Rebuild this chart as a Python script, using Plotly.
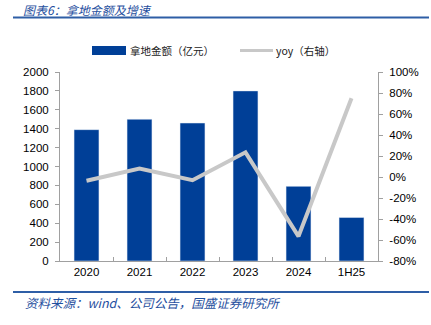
import plotly.graph_objects as go

categories = ["2020", "2021", "2022", "2023", "2024", "1H25"]
land_amount = [1390, 1500, 1460, 1800, 790, 460]
yoy_pct = [-3.5, 8.0, -3.0, 23.5, -56.5, 75.0]

left_ticks = list(range(0, 2001, 200))
right_ticks = list(range(-80, 101, 20))

BAR = "#003f97"
LINE = "#c8c8c8"
TXT_BLUE = "#1f4f9e"
AX = "#a0a0a0"
FONT = "Liberation Sans, Arial, sans-serif"
CJK = "Noto Sans CJK SC"

W, H = 431, 325
ml, mr, mt, mb = 60, 53, 72, 64
PW, PH = W - ml - mr, H - mt - mb

fig = go.Figure()
fig.add_trace(go.Bar(x=categories, y=land_amount, marker_color=BAR, width=0.47,
                     name="拿地金额（亿元）", yaxis="y"))
fig.add_trace(go.Scatter(x=categories, y=yoy_pct, mode="lines",
                         line=dict(color=LINE, width=4), name="yoy（右轴）", yaxis="y2"))

def px(x):
    return (x - ml) / PW
def py(y):
    return (H - mb - y) / PH

shapes = [
    dict(type="line", xref="paper", yref="paper", x0=px(13), x1=px(429), y0=py(17.5), y1=py(17.5),
         line=dict(color="#2e5ea6", width=2)),
    dict(type="line", xref="paper", yref="paper", x0=px(13), x1=px(429), y0=py(292), y1=py(292),
         line=dict(color="#2e5ea6", width=2)),
    # legend symbols
    dict(type="rect", xref="paper", yref="paper", x0=px(92), x1=px(126), y0=py(46), y1=py(55),
         fillcolor=BAR, line=dict(width=0)),
    dict(type="line", xref="paper", yref="paper", x0=px(240), x1=px(273), y0=py(50.5), y1=py(50.5),
         line=dict(color=LINE, width=3)),
]

annotations = [
    dict(text="图表6：拿地金额及增速", xref="paper", yref="paper", x=px(22), y=py(9),
         xanchor="left", yanchor="middle", showarrow=False, borderpad=0,
         font=dict(family=CJK, size=12, color=TXT_BLUE, style="italic")),
    dict(text="资料来源：wind、公司公告，国盛证券研究所", xref="paper", yref="paper", x=px(23), y=py(302.5),
         xanchor="left", yanchor="middle", showarrow=False,
         font=dict(family=CJK, size=12.5, color=TXT_BLUE, style="italic")),
    dict(text="拿地金额（亿元）", xref="paper", yref="paper", x=px(128), y=py(50.5),
         xanchor="left", yanchor="middle", showarrow=False,
         font=dict(family=CJK, size=10.5, color="#222222")),
    dict(text="yoy（右轴）", xref="paper", yref="paper", x=px(274), y=py(50.5),
         xanchor="left", yanchor="middle", showarrow=False,
         font=dict(family=CJK, size=10.5, color="#222222")),
]

fig.update_layout(
    width=W, height=H,
    margin=dict(l=ml, r=mr, t=mt, b=mb),
    paper_bgcolor="white", plot_bgcolor="white",
    showlegend=False,
    font=dict(family=FONT, size=11.5, color="#000000"),
    shapes=shapes, annotations=annotations,
    bargap=0.53,
    xaxis=dict(type="category", showline=True, linecolor=AX, linewidth=1,
               ticks="inside", tickson="boundaries", ticklen=4, tickcolor=AX,
               showgrid=False, tickfont=dict(size=11.5), zeroline=False),
    yaxis=dict(range=[0, 2000], tickvals=left_ticks, showline=True, linecolor=AX, linewidth=1,
               ticks="outside", ticklen=4, tickcolor=AX, showgrid=False, zeroline=False,
               ticklabelstandoff=4),
    yaxis2=dict(range=[-80, 100], tickvals=right_ticks, ticktext=[f"{v}%" for v in right_ticks],
                overlaying="y", side="right", showline=True, linecolor=AX, linewidth=1,
                ticks="outside", ticklen=4, tickcolor=AX, showgrid=False, zeroline=False,
                ticklabelstandoff=4),
)

fig.write_html("out.html")
